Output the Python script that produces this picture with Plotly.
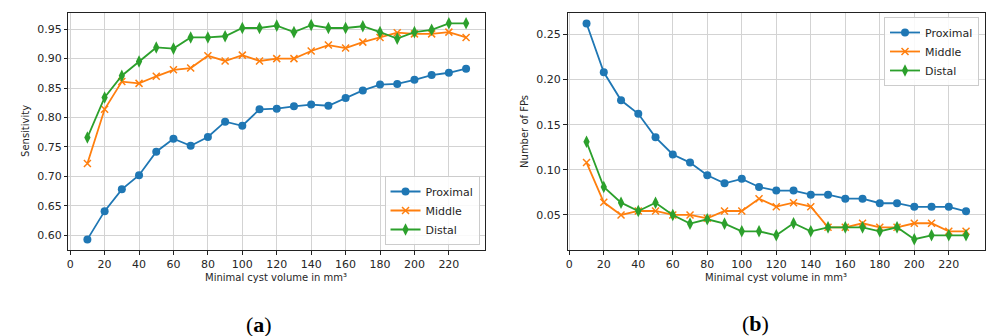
import plotly.graph_objects as go

W, H = 987, 336

volumes = [10, 20, 30, 40, 50, 60, 70, 80, 90, 100, 110, 120, 130, 140, 150, 160, 170, 180, 190, 200, 210, 220, 230]

sens_proximal = [0.593, 0.641, 0.678, 0.702, 0.742, 0.764, 0.752, 0.767, 0.793, 0.786, 0.814, 0.815,
                 0.819, 0.822, 0.820, 0.833, 0.846, 0.856, 0.857, 0.864, 0.872, 0.876, 0.883]
sens_middle = [0.722, 0.814, 0.861, 0.858, 0.870, 0.881, 0.884, 0.905, 0.896, 0.906, 0.896, 0.900,
               0.900, 0.913, 0.923, 0.918, 0.928, 0.936, 0.944, 0.942, 0.942, 0.945, 0.936]
sens_distal = [0.766, 0.834, 0.871, 0.895, 0.919, 0.917, 0.936, 0.936, 0.938, 0.952, 0.952, 0.956,
               0.945, 0.957, 0.952, 0.952, 0.955, 0.945, 0.934, 0.945, 0.949, 0.960, 0.960]

fp_proximal = [0.262, 0.208, 0.177, 0.162, 0.136, 0.117, 0.108, 0.094, 0.085, 0.090, 0.081, 0.077,
               0.077, 0.0725, 0.0725, 0.068, 0.068, 0.063, 0.063, 0.059, 0.059, 0.059, 0.054]
fp_middle = [0.108, 0.064, 0.050, 0.0544, 0.0544, 0.050, 0.050, 0.0463, 0.0544, 0.0544, 0.068, 0.0592,
             0.0636, 0.0592, 0.0363, 0.0363, 0.0408, 0.0363, 0.0363, 0.0408, 0.0408, 0.0319, 0.0319]
fp_distal = [0.131, 0.081, 0.0636, 0.0544, 0.0636, 0.050, 0.0404, 0.0452, 0.0404, 0.0319, 0.0319, 0.0275,
             0.0408, 0.0319, 0.0363, 0.0363, 0.0363, 0.0319, 0.0363, 0.0231, 0.0275, 0.0275, 0.0275]

series_names = ["Proximal", "Middle", "Distal"]
colors = ["#1f77b4", "#ff7f0e", "#2ca02c"]
x_ticks = [0, 20, 40, 60, 80, 100, 120, 140, 160, 180, 200, 220]
x_title = "Minimal cyst volume in mm³"

markers = [
    dict(symbol="circle", size=8),
    dict(symbol="x-thin", size=7, line=dict(width=1.5)),
    dict(symbol="diamond-tall", size=9),
]

fig = go.Figure()

for name, ys, c, m in zip(series_names, [sens_proximal, sens_middle, sens_distal], colors, markers):
    mk = dict(m)
    mk["color"] = c
    if "line" in mk:
        mk["line"] = dict(width=1.5, color=c)
    fig.add_trace(go.Scatter(x=volumes, y=ys, name=name, mode="lines+markers",
                             line=dict(color=c, width=1.8), marker=mk,
                             xaxis="x", yaxis="y", legend="legend"))

for name, ys, c, m in zip(series_names, [fp_proximal, fp_middle, fp_distal], colors, markers):
    mk = dict(m)
    mk["color"] = c
    if "line" in mk:
        mk["line"] = dict(width=1.5, color=c)
    fig.add_trace(go.Scatter(x=volumes, y=ys, name=name, mode="lines+markers",
                             line=dict(color=c, width=1.8), marker=mk,
                             xaxis="x2", yaxis="y2", legend="legend2"))

def px_x(p):
    return p / W

def px_y(p):
    return (H - p) / H

ydom = [px_y(250), px_y(12.7)]
tickfont = dict(family="DejaVu Sans", size=11, color="#262626")

axis_common = dict(showline=True, mirror=True, linecolor="#222", linewidth=1,
                   ticks="outside", ticklen=3.5, tickcolor="#222", tickwidth=1,
                   showgrid=True, gridcolor="#d3d3d3", gridwidth=1,
                   zeroline=False, tickfont=tickfont)

legend_common = dict(bgcolor="rgba(255,255,255,0.85)", bordercolor="#cccccc", borderwidth=1,
                     font=dict(family="DejaVu Sans", size=11, color="#262626"),
                     itemwidth=30, tracegroupgap=0)

fig.update_layout(
    width=W, height=H,
    margin=dict(l=0, r=0, t=0, b=0),
    paper_bgcolor="white", plot_bgcolor="white",
    font=dict(family="DejaVu Sans", color="#262626"),
    xaxis=dict(domain=[px_x(66.6), px_x(484)], range=[-1, 241], tickvals=x_ticks,
               anchor="y", **axis_common),
    yaxis=dict(domain=ydom, range=[0.575, 0.978], dtick=0.05, tick0=0, tickformat=".2f",
               anchor="x", **axis_common),
    xaxis2=dict(domain=[px_x(566.7), px_x(985)], range=[-1, 241], tickvals=x_ticks,
                anchor="y2", **axis_common),
    yaxis2=dict(domain=ydom, range=[0.0112, 0.274], dtick=0.05, tick0=0, tickformat=".2f",
                anchor="x2", **axis_common),
    legend=dict(x=px_x(478.5), y=px_y(245), xanchor="right", yanchor="bottom", **legend_common),
    legend2=dict(x=px_x(979), y=px_y(17), xanchor="right", yanchor="top", **legend_common),
    showlegend=True,
)

ann_font = dict(family="DejaVu Sans", size=10, color="#262626")
cap_font = dict(family="Liberation Serif", size=22, color="black")
annotations = [
    dict(text=x_title, x=px_x(275), y=px_y(277), xref="paper", yref="paper",
         showarrow=False, font=ann_font, xanchor="center", yanchor="middle"),
    dict(text=x_title, x=px_x(776), y=px_y(277), xref="paper", yref="paper",
         showarrow=False, font=ann_font, xanchor="center", yanchor="middle"),
    dict(text="Sensitivity", x=px_x(24), y=px_y(131), xref="paper", yref="paper",
         showarrow=False, font=ann_font, textangle=-90, xanchor="center", yanchor="middle"),
    dict(text="Number of FPs", x=px_x(524), y=px_y(131), xref="paper", yref="paper",
         showarrow=False, font=ann_font, textangle=-90, xanchor="center", yanchor="middle"),
    dict(text="(<b>a</b>)", x=px_x(258), y=px_y(324), xref="paper", yref="paper",
         showarrow=False, font=cap_font, xanchor="center", yanchor="middle"),
    dict(text="(<b>b</b>)", x=px_x(755), y=px_y(323), xref="paper", yref="paper",
         showarrow=False, font=cap_font, xanchor="center", yanchor="middle"),
]
fig.update_layout(annotations=annotations)

fig.write_html("out.html", config={"displayModeBar": False},
               post_script="document.body.style.margin='0';document.body.style.overflow='hidden';")
